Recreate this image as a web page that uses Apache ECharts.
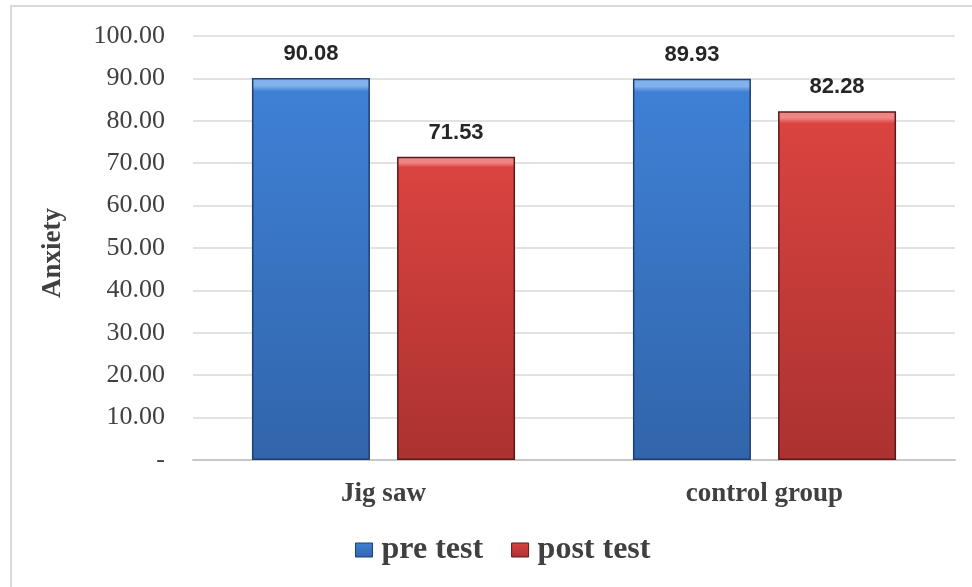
<!DOCTYPE html>
<html>
<head>
<meta charset="utf-8">
<script src="https://cdn.jsdelivr.net/npm/echarts@6/dist/echarts.min.js"></script>
<style>
  html, body { margin: 0; padding: 0; background: #ffffff; }
  #frame {
    position: absolute; left: 10px; top: 5px; width: 980px; height: 600px;
    border-top: 2px solid #d9d9d9; border-left: 2px solid #d9d9d9; box-sizing: border-box;
  }
  #chart { position: absolute; left: 0; top: 0; width: 972px; height: 587px; }
</style>
</head>
<body>
<div id="frame"></div>
<div id="chart"></div>
<script>
// Mean anxiety scores by group
const categories = ['Jig saw', 'control group'];
const preTest = [90.08, 89.93];
const postTest = [71.53, 82.28];
const yTicks = { min: 0, max: 100, interval: 10 };

function bevel(light, mid, dark) {
  return new echarts.graphic.LinearGradient(0, 0, 0, 1, [
    { offset: 0, color: light },
    { offset: 0.02, color: light },
    { offset: 0.035, color: mid },
    { offset: 1, color: dark }
  ]);
}

const blueFill = bevel('#82b2ec', '#3f80d5', '#3165ab');
const redFill = bevel('#ef8585', '#da4340', '#ab3230');

const serif = '"Liberation Serif", "Times New Roman", serif';
const sans = '"Liberation Sans", Arial, sans-serif';

const chart = echarts.init(document.getElementById('chart'), null, { renderer: 'canvas' });

chart.setOption({
  animation: false,
  textStyle: { fontFamily: serif },
  grid: { left: 193, right: 17, top: 36, bottom: 127, containLabel: false },
  legend: {
    top: 529,
    left: 350,
    icon: 'rect',
    itemWidth: 17,
    itemHeight: 14,
    itemGap: 28,
    textStyle: { fontFamily: serif, fontWeight: 'bold', fontSize: 32, color: '#404040', padding: [0, 0, 0, 4] },
    data: [
      { name: 'pre test', itemStyle: { color: blueFill, borderColor: '#1f3f6f', borderWidth: 1 } },
      { name: 'post test', itemStyle: { color: redFill, borderColor: '#5a1a1a', borderWidth: 1 } }
    ]
  },
  xAxis: {
    type: 'category',
    data: categories,
    axisTick: { show: false },
    axisLine: { show: true, lineStyle: { color: '#c8c8c8', width: 2 } },
    axisLabel: { margin: 21, fontFamily: serif, fontWeight: 'bold', fontSize: 27, color: '#404040' }
  },
  yAxis: {
    type: 'value',
    min: yTicks.min,
    max: yTicks.max,
    interval: yTicks.interval,
    name: 'Anxiety',
    nameLocation: 'middle',
    nameGap: 126,
    nameRotate: 90,
    nameTextStyle: { fontFamily: serif, fontWeight: 'bold', fontSize: 27, color: '#404040', padding: [0, 10, 0, 0] },
    axisLine: { show: false },
    axisTick: { show: false },
    splitLine: { lineStyle: { color: '#d9d9d9', width: 1.5 } },
    axisLabel: {
      margin: 28,
      fontFamily: serif,
      fontSize: 26,
      color: '#404040',
      formatter: v => (v === 0 ? '-' : v.toFixed(2))
    }
  },
  series: [
    {
      name: 'pre test',
      type: 'bar',
      data: preTest,
      barWidth: 118,
      barGap: '23%',
      itemStyle: { color: blueFill, borderColor: '#1f3f6f', borderWidth: 1.5 },
      label: {
        show: true, position: 'top', distance: 13,
        fontFamily: sans, fontWeight: 'bold', fontSize: 22, color: '#262626',
        formatter: p => p.value.toFixed(2)
      }
    },
    {
      name: 'post test',
      type: 'bar',
      data: postTest,
      barWidth: 118,
      itemStyle: { color: redFill, borderColor: '#5a1a1a', borderWidth: 1.5 },
      label: {
        show: true, position: 'top', distance: 13,
        fontFamily: sans, fontWeight: 'bold', fontSize: 22, color: '#262626',
        formatter: p => p.value.toFixed(2)
      }
    }
  ]
});
</script>
</body>
</html>
